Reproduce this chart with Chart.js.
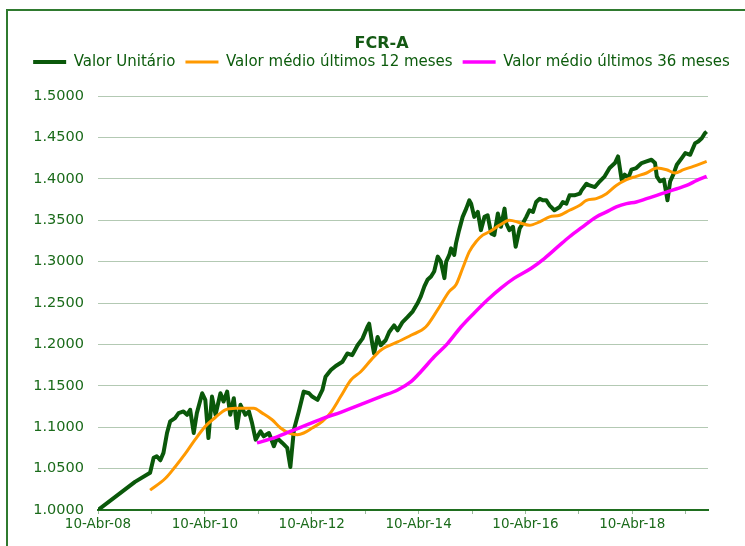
<!DOCTYPE html>
<html>
<head>
<meta charset="utf-8">
<script src="https://cdn.jsdelivr.net/npm/chart.js@4.4.1/dist/chart.umd.min.js"></script>
<style>
  body { margin: 0; background: #fff; }
  canvas { display: block; }
</style>
</head>
<body>
<canvas id="fcrChart" width="745" height="546"></canvas>
<script>
// months counted from 10-Abr-08
const tickLabels = ["10-Abr-08", "10-Abr-10", "10-Abr-12", "10-Abr-14", "10-Abr-16", "10-Abr-18"];

const unitMonths = [0, 8.3, 11.7, 12.5, 13.2, 14.0, 14.7, 15.5, 16.2, 17.3,
  18.1, 19.2, 20.0, 20.7, 21.5, 22.2, 23.4, 24.1, 24.8, 25.6,
  26.4, 27.5, 28.2, 29.0, 29.7, 30.5, 31.2, 32.0, 33.1, 33.9,
  34.6, 35.4, 36.5, 37.2, 38.4, 39.5, 40.2, 41.4, 42.5, 43.2,
  44.0, 45.1, 46.2, 47.4, 48.1, 49.3, 50.4, 51.1, 52.3, 53.4,
  54.9, 56.0, 57.1, 58.3, 59.4, 60.5, 60.9, 61.6, 62.0, 62.8,
  63.5, 64.6, 65.4, 66.5, 67.3, 68.4, 69.5, 70.7, 71.8, 72.5,
  73.3, 74.0, 74.8, 75.5, 76.3, 77.0, 77.8, 78.2, 78.9, 79.3,
  80.0, 80.4, 81.1, 81.9, 82.7, 83.4, 83.8, 84.5, 85.3, 86.0,
  86.8, 87.5, 88.3, 89.0, 89.8, 90.5, 91.3, 91.7, 92.4, 93.2,
  93.8, 94.7, 95.4, 96.2, 96.9, 97.7, 98.4, 99.2, 99.9, 100.7,
  101.4, 102.5, 103.7, 104.4, 105.2, 105.9, 107.0, 108.2, 108.6, 109.7,
  110.4, 111.6, 112.7, 113.8, 114.9, 116.1, 116.8, 117.6, 118.3, 119.1,
  119.8, 120.9, 122.1, 123.2, 124.3, 125.1, 125.5, 126.2, 127.1, 127.9,
  128.5, 129.2, 130.0, 131.1, 131.9, 133.0, 134.1, 134.8, 135.6, 136.3,
  136.7];
const unitValues = [1.000, 1.034, 1.045, 1.063, 1.065, 1.060, 1.069, 1.093, 1.107, 1.111,
  1.117, 1.119, 1.115, 1.121, 1.093, 1.117, 1.141, 1.133, 1.087, 1.137,
  1.115, 1.141, 1.131, 1.143, 1.115, 1.135, 1.099, 1.127, 1.115, 1.119,
  1.105, 1.085, 1.095, 1.089, 1.093, 1.077, 1.087, 1.081, 1.075, 1.052,
  1.097, 1.119, 1.143, 1.141, 1.137, 1.133, 1.145, 1.161, 1.169, 1.174,
  1.179, 1.189, 1.187, 1.199, 1.207, 1.221, 1.225, 1.201, 1.189, 1.209,
  1.199, 1.205, 1.215, 1.223, 1.217, 1.227, 1.233, 1.240, 1.250, 1.258,
  1.270, 1.278, 1.282, 1.288, 1.306, 1.300, 1.280, 1.300, 1.308, 1.316,
  1.308, 1.322, 1.338, 1.354, 1.364, 1.374, 1.370, 1.354, 1.360, 1.338,
  1.354, 1.356, 1.334, 1.332, 1.358, 1.342, 1.364, 1.346, 1.338, 1.342,
  1.318, 1.340, 1.346, 1.354, 1.362, 1.360, 1.372, 1.376, 1.374, 1.374,
  1.368, 1.362, 1.366, 1.372, 1.370, 1.380, 1.380, 1.382, 1.386, 1.394,
  1.392, 1.390, 1.397, 1.403, 1.413, 1.419, 1.427, 1.399, 1.405, 1.401,
  1.411, 1.413, 1.419, 1.421, 1.423, 1.419, 1.403, 1.397, 1.399, 1.374,
  1.397, 1.405, 1.417, 1.425, 1.431, 1.429, 1.443, 1.445, 1.449, 1.455,
  1.457];

const avg12Months = [11.7, 15.1, 17.3, 19.6, 21.8, 24.1, 26.4, 28.6, 30.9, 33.9,
  35.0, 36.9, 39.1, 41.0, 42.9, 44.8, 46.2, 48.1, 50.4, 52.3,
  54.5, 56.8, 59.0, 61.3, 63.5, 67.3, 70.3, 73.6, 76.3, 78.9,
  80.4, 81.9, 83.4, 84.9, 86.4, 87.9, 90.2, 92.4, 94.7, 96.9,
  99.2, 101.4, 103.7, 105.9, 108.2, 109.7, 111.9, 114.2, 116.4, 118.7,
  120.9, 123.2, 125.5, 127.7, 129.6, 131.5, 133.7, 136.7];
const avg12Values = [1.024, 1.038, 1.052, 1.068, 1.085, 1.101, 1.112, 1.121, 1.123, 1.123,
  1.123, 1.117, 1.109, 1.099, 1.093, 1.091, 1.093, 1.099, 1.107, 1.118,
  1.137, 1.157, 1.167, 1.181, 1.193, 1.203, 1.211, 1.221, 1.242, 1.264,
  1.272, 1.292, 1.312, 1.324, 1.332, 1.336, 1.344, 1.350, 1.347, 1.344,
  1.348, 1.354, 1.356, 1.362, 1.368, 1.374, 1.376, 1.382, 1.392, 1.399,
  1.403, 1.407, 1.413, 1.411, 1.407, 1.411, 1.415, 1.421];

const avg36Months = [35.7, 39.5, 43.2, 47.0, 50.7, 54.5, 59.8, 63.5, 67.3, 70.3,
  72.5, 75.5, 78.5, 81.5, 84.5, 87.5, 90.5, 93.5, 97.3, 100.3,
  103.3, 105.9, 108.6, 111.9, 114.2, 116.4, 118.7, 120.9, 123.2, 125.5,
  127.7, 130.0, 132.2, 134.5, 136.7];
const avg36Values = [1.081, 1.087, 1.095, 1.103, 1.111, 1.118, 1.129, 1.137, 1.145, 1.155,
  1.167, 1.185, 1.201, 1.221, 1.238, 1.254, 1.268, 1.280, 1.292, 1.304,
  1.318, 1.330, 1.341, 1.354, 1.360, 1.366, 1.370, 1.372, 1.376, 1.380,
  1.384, 1.388, 1.392, 1.398, 1.403];

const toPoints = (xs, ys) => xs.map((x, i) => ({ x: x, y: ys[i] }));

Chart.defaults.font.family = "'DejaVu Sans', Verdana, sans-serif";

// green frame around the whole chart
const framePlugin = {
  id: "frame",
  beforeDraw(chart) {
    const c = chart.ctx;
    c.save();
    c.strokeStyle = "#2f7a2f";
    c.lineWidth = 2;
    c.strokeRect(7, 10, 800, 600);
    c.restore();
  }
};

new Chart(document.getElementById("fcrChart"), {
  type: "line",
  data: {
    datasets: [
      {
        label: "Valor Unitário",
        data: toPoints(unitMonths, unitValues),
        borderColor: "#0a580a",
        backgroundColor: "#0a580a",
        borderWidth: 4,
        borderJoinStyle: "round",
        order: 3,
      },
      {
        label: "Valor médio últimos 12 meses",
        data: toPoints(avg12Months, avg12Values),
        borderColor: "#ff9900",
        backgroundColor: "#ff9900",
        borderWidth: 3,
        cubicInterpolationMode: "monotone",
        order: 2,
      },
      {
        label: "Valor médio últimos 36 meses",
        data: toPoints(avg36Months, avg36Values),
        borderColor: "#ff00ff",
        backgroundColor: "#ff00ff",
        borderWidth: 3.5,
        cubicInterpolationMode: "monotone",
        order: 1,
      },
    ],
  },
  options: {
    responsive: false,
    animation: false,
    devicePixelRatio: 1,
    layout: { padding: { left: 18, right: 0, top: 0, bottom: 0 } },
    elements: { point: { radius: 0 } },
    scales: {
      x: {
        type: "linear",
        min: 0,
        max: 137,
        grid: { drawOnChartArea: false, drawTicks: true, tickLength: 4, color: "#9db89d" },
        border: { color: "#1f6e1f", width: 2 },
        ticks: {
          stepSize: 12,
          includeBounds: false,
          autoSkip: false,
          maxRotation: 0,
          padding: 2,
          color: "#1b6b1b",
          font: { size: 13.5 },
          callback: (v) => (v % 24 === 0 ? tickLabels[v / 24] : ""),
        },
        afterFit(scale) { scale.height = 36; },
      },
      y: {
        min: 1,
        max: 1.5,
        grid: { color: "#b3c9b3", drawTicks: false },
        border: { display: false },
        ticks: {
          stepSize: 0.05,
          padding: 14,
          color: "#1b6b1b",
          font: { size: 14.5 },
          callback: (v) => v.toFixed(4),
        },
        afterFit(scale) { scale.width = 80; },
      },
      yPad: {
        position: "right",
        grid: { display: false },
        border: { display: false },
        ticks: { display: false },
        afterFit(scale) { scale.width = 37; },
      },
    },
    plugins: {
      tooltip: { enabled: false },
      title: {
        display: true,
        text: "FCR-A",
        color: "#145a14",
        font: { size: 16, weight: "bold", lineHeight: "1px" },
        padding: { top: 43.5, bottom: 0 },
      },
      subtitle: {
        display: true,
        text: "",
        weight: 500,
        padding: 0,
        font: { size: 10, lineHeight: "16.5px" },
      },
      legend: {
        labels: {
          usePointStyle: true,
          pointStyle: "line",
          pointStyleWidth: 33,
          color: "#0d5c0d",
          font: { size: 15 },
          padding: 10,
          sort: (a, b) => a.datasetIndex - b.datasetIndex,
        },
      },
    },
  },
  plugins: [framePlugin],
});
</script>
</body>
</html>
